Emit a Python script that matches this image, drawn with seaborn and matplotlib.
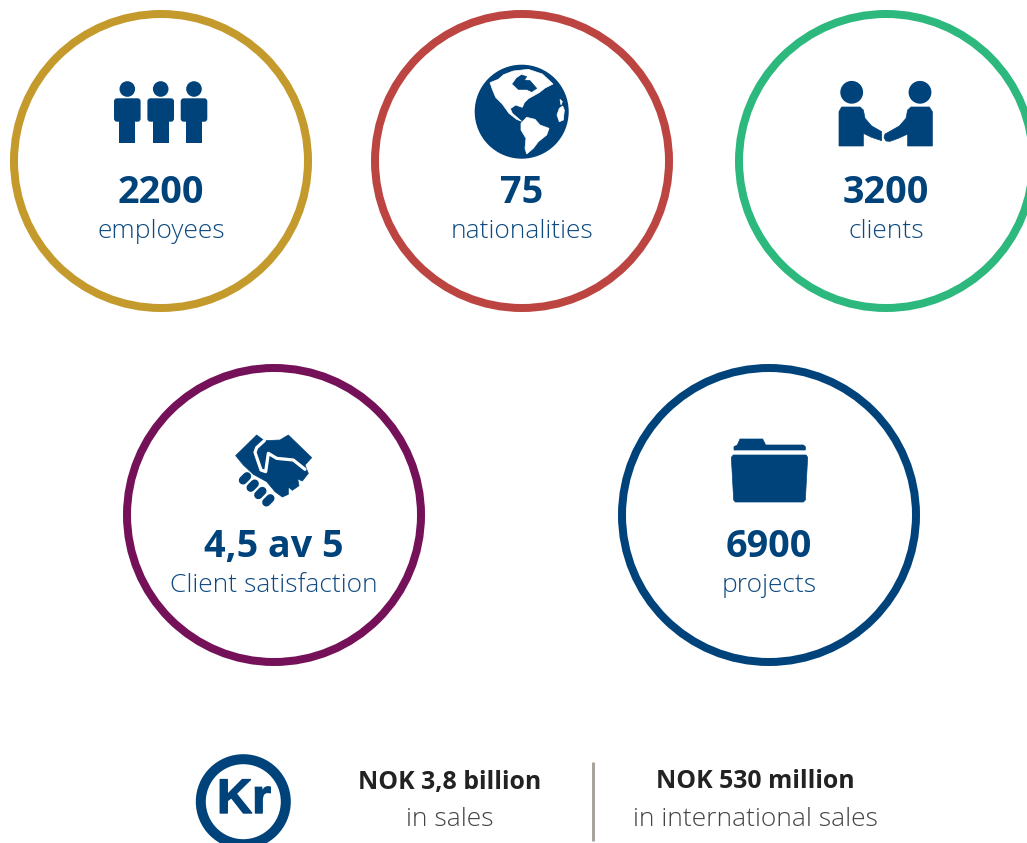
import matplotlib
matplotlib.use("Agg")
import matplotlib.pyplot as plt
import matplotlib.patheffects as pe
from matplotlib.patches import Circle, Polygon, FancyBboxPatch
import pandas as pd
import seaborn as sns

# --- content ---
values = ["2200", "75", "3200", "4,5 av 5", "6900"]
labels = ["employees", "nationalities", "clients", "Client satisfaction", "projects"]
ring_colors = ["#C49A2C", "#BC4542", "#2DB87E", "#751159", "#00437B"]
center_x = [161, 522, 886, 274, 769]
center_y = [161, 161, 161, 515, 515]
sales_titles = ["NOK 3,8 billion", "NOK 530 million"]
sales_subs = ["in sales", "in international sales"]
sales_x = [450, 755]

NAVY = "#00437B"
FONT = "Open Sans"

sns.set_theme(style="white")
plt.rcParams["font.family"] = [FONT, "DejaVu Sans"]

fig = plt.figure(figsize=(10.27, 8.43), dpi=100)
ax = fig.add_axes([0, 0, 1, 1])
ax.set_xlim(0, 1027)
ax.set_ylim(843, 0)
ax.axis("off")

PX = 72 / 100  # points per pixel
rings = pd.DataFrame({"x": center_x, "y": center_y, "name": labels})
sns.scatterplot(data=rings, x="x", y="y", hue="name", palette=ring_colors, legend=False,
                ax=ax, s=(2 * 147 * PX) ** 2, marker="o", facecolors="none",
                linewidth=8 * PX, clip_on=True)
coll = ax.collections[0]
coll.set_edgecolors(ring_colors)
coll.set_facecolors("none")
coll.set_linewidths(8 * PX)

for v, l, x, y in zip(values, labels, center_x, center_y):
    ax.text(x, y + 32, v, ha="center", va="center", fontsize=27.2, fontweight="bold",
            color=NAVY, family=FONT)
    ax.text(x, y + 71, l, ha="center", va="center", fontsize=19, fontweight="light",
            color="#0E4A80", family=FONT)


def poly(pts, x0, y0, color=NAVY, scale=3.0, **kw):
    ax.add_patch(Polygon([(x0 + a / scale, y0 + b / scale) for a, b in pts],
                         closed=True, facecolor=color, edgecolor=color, lw=0.5, **kw))


# --- three people ---
for hx in [127.3, 160.7, 194]:
    ax.add_patch(Circle((hx, 89), 7.8, color=NAVY, lw=0))
    ax.add_patch(FancyBboxPatch((hx - 12.3, 99.3), 24.6, 21.4,
                                boxstyle="round,pad=1,rounding_size=3", color=NAVY, lw=0))
    ax.add_patch(plt.Rectangle((hx - 8, 115), 16, 27.7, color=NAVY, lw=0))

# --- globe ---
gx, gy = 465, 60
ax.add_patch(Circle((521.7, 111.7), 47, color=NAVY, lw=0))
poly([(75, 68), (100, 58), (116, 44), (145, 33), (190, 28), (232, 42), (264, 72), (240, 84),
      (224, 97), (208, 106), (190, 116), (178, 128), (172, 142), (152, 135), (136, 146),
      (142, 160), (170, 184), (155, 178), (132, 160), (112, 132), (92, 112), (82, 88)],
     gx, gy, "white")
poly([(143, 72), (155, 55), (170, 45), (185, 50), (178, 60), (195, 62), (215, 85), (200, 95),
      (185, 88), (160, 88)], gx, gy)
poly([(145, 148), (158, 145), (168, 152), (160, 160), (150, 158)], gx, gy)
poly([(168, 190), (185, 172), (210, 178), (225, 195), (252, 205), (245, 225), (220, 245),
      (205, 265), (185, 282), (180, 265), (183, 235), (168, 210)], gx, gy, "white")
poly([(285, 118), (292, 125), (288, 135)], gx, gy, "white")
poly([(283, 145), (293, 138), (298, 150), (295, 180), (283, 185), (276, 165)], gx, gy, "white")

# --- clients ---
cx0, cy0 = 830, 70
ax.add_patch(Circle((851.7, 92.3), 11.4, color=NAVY, lw=0))
ax.add_patch(Circle((920, 92.3), 11.4, color=NAVY, lw=0))
poly([(27, 125), (35, 111), (90, 111), (100, 120), (105, 145), (125, 168), (155, 185), (155, 212),
      (125, 202), (100, 190), (100, 228), (27, 228)], cx0, cy0)
poly([(307, 125), (298, 111), (243, 111), (233, 120), (228, 145), (208, 168), (178, 185),
      (165, 192), (162, 203), (168, 213), (180, 214), (205, 205), (233, 192), (233, 228),
      (307, 228)], cx0, cy0)

# --- handshake ---
hx0, hy0 = 225, 425
poly([(32, 92), (95, 30), (118, 47), (165, 45), (190, 30), (260, 98), (240, 120), (250, 145),
      (232, 168), (218, 162), (222, 182), (202, 196), (190, 186), (190, 208), (172, 216),
      (150, 200), (125, 170), (85, 148), (55, 120)], hx0, hy0)
for c in [(60, 160), (83, 182), (106, 204), (130, 226)]:
    ax.plot([hx0 + (c[0] - 6) / 3, hx0 + (c[0] + 6) / 3],
            [hy0 + (c[1] + 6) / 3, hy0 + (c[1] - 6) / 3], color=NAVY,
            lw=8.4 * PX, solid_capstyle="round")
white_a = [(118, 47), (95, 68), (90, 82), (108, 135), (122, 140), (130, 85), (155, 100),
           (205, 105), (240, 133)]
ax.plot([hx0 + p[0] / 3 for p in white_a], [hy0 + p[1] / 3 for p in white_a], color="white",
        lw=3.2 * PX, solid_joinstyle="round")

# --- folder ---
fx0, fy0 = 720, 430
poly([(42, 60), (42, 50), (52, 45), (60, 27), (128, 27), (137, 45), (250, 45), (256, 50), (256, 60)],
     fx0, fy0)
poly([(40, 75), (258, 75), (263, 82), (256, 210), (250, 216), (46, 216), (41, 210), (34, 82)],
     fx0, fy0)

# --- Kr badge ---
ax.add_patch(Circle((243.3, 801.7), 42.5, facecolor="none", edgecolor=NAVY, lw=10 * PX))
ax.text(244, 800.5, "Kr", ha="center", va="center", fontsize=35, fontweight="bold",
        color=NAVY, family="Liberation Sans",
        path_effects=[pe.withStroke(linewidth=1.0, foreground=NAVY)])

# --- sales ---
for t, s, x in zip(sales_titles, sales_subs, sales_x):
    ax.text(x, 782, t, ha="center", va="center", fontsize=17.9, fontweight="bold",
            color="#222222", family=FONT)
    ax.text(x, 819, s, ha="center", va="center", fontsize=19, fontweight="light",
            color="#444444", family=FONT)
ax.plot([593, 593], [762, 841], color="#A8A49C", lw=3 * PX, solid_capstyle="butt")

fig.savefig("out.png", dpi=100, facecolor="white")
